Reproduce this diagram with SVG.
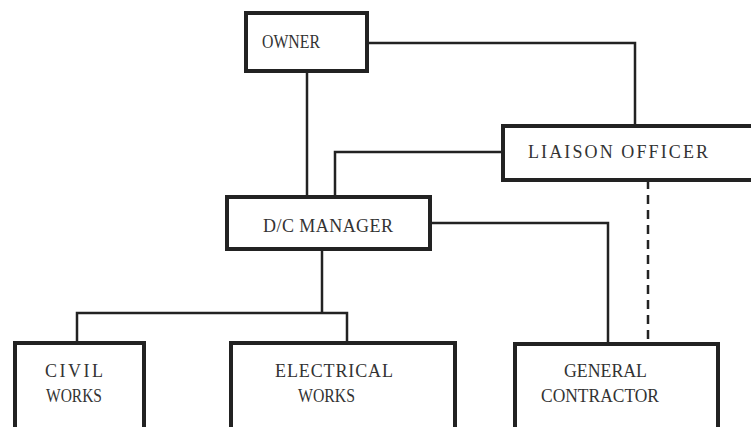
<svg xmlns="http://www.w3.org/2000/svg" width="751" height="427" viewBox="0 0 751 427">
<style>
.box{fill:#fff;stroke:#222;stroke-width:4}
.ln{fill:none;stroke:#222;stroke-width:2.5}
.dash{fill:none;stroke:#222;stroke-width:2.5;stroke-dasharray:9 6}
text{font-family:"Liberation Serif","Times New Roman",serif;font-size:18px;fill:#333}
</style>
<rect width="751" height="427" fill="#fff"/>
<g id="connectors">
<polyline class="ln" points="367,43 635,43 635,126"/>
<line class="ln" x1="307" y1="71" x2="307" y2="197"/>
<polyline class="ln" points="503,152 335,152 335,197"/>
<polyline class="ln" points="430,223 608,223 608,344"/>
<line class="ln" x1="322" y1="249" x2="322" y2="313"/>
<polyline class="ln" points="77,343 77,313 347,313 347,343"/>
<line class="dash" x1="648" y1="180" x2="648" y2="344"/>
</g>
<g id="owner">
<rect class="box" x="246" y="13" width="121" height="58"/>
<text x="262" y="48" textLength="58" lengthAdjust="spacingAndGlyphs">OWNER</text>
</g>
<g id="liaison">
<rect class="box" x="503" y="126" width="260" height="54"/>
<text x="528" y="158" textLength="180" lengthAdjust="spacing">LIAISON OFFICER</text>
</g>
<g id="dc">
<rect class="box" x="227" y="197" width="203" height="52"/>
<text x="263" y="232" textLength="130" lengthAdjust="spacing">D/C MANAGER</text>
</g>
<g id="civil">
<rect class="box" x="15" y="343" width="129" height="95"/>
<text x="45" y="377" textLength="58" lengthAdjust="spacing">CIVIL</text>
<text x="46" y="402" textLength="56" lengthAdjust="spacingAndGlyphs">WORKS</text>
</g>
<g id="electrical">
<rect class="box" x="231" y="343" width="224" height="95"/>
<text x="275" y="377" textLength="118" lengthAdjust="spacing">ELECTRICAL</text>
<text x="298" y="402" textLength="57" lengthAdjust="spacingAndGlyphs">WORKS</text>
</g>
<g id="general">
<rect class="box" x="515" y="344" width="203" height="95"/>
<text x="564" y="377" textLength="83" lengthAdjust="spacingAndGlyphs">GENERAL</text>
<text x="541" y="402" textLength="118" lengthAdjust="spacingAndGlyphs">CONTRACTOR</text>
</g>
</svg>
